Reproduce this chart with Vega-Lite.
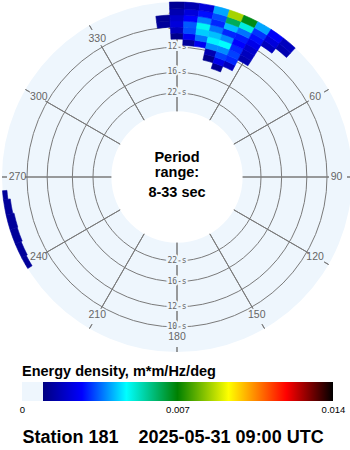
{
  "$schema": "https://vega.github.io/schema/vega-lite/v6.json",
  "padding": 0,
  "autosize": {"type": "pad"},
  "background": "white",
  "spacing": 30,
  "bounds": "flush",
  "config": {"view": {"stroke": null}, "font": "Liberation Sans"},
  "datasets": {
    "ring": [{"a0": 0, "a1": 360, "fIn": 0.0303, "fOut": 0.12066}],
    "circles": [
      {"a0": 0, "a1": 360, "f": 0.1},
      {"a0": 0, "a1": 360, "f": 0.083333},
      {"a0": 0, "a1": 360, "f": 0.0625},
      {"a0": 0, "a1": 360, "f": 0.045455}
    ],
    "spokes": [
      {"a": 0, "lab": "360", "s0": 0.0303, "s1": 0.10165, "k0": 0.11653, "k1": 0.12066, "fl": 0.10785},
      {"a": 30, "lab": "30", "s0": 0.0303, "s1": 0.10165, "k0": 0.11653, "k1": 0.12066, "fl": 0.10785},
      {"a": 60, "lab": "60", "s0": 0.0303, "s1": 0.10165, "k0": 0.11653, "k1": 0.12066, "fl": 0.10785},
      {"a": 90, "lab": "90", "s0": 0.0303, "s1": 0.10165, "k0": 0.11653, "k1": 0.12066, "fl": 0.10785},
      {"a": 120, "lab": "120", "s0": 0.0303, "s1": 0.10165, "k0": 0.11653, "k1": 0.12066, "fl": 0.10785},
      {"a": 150, "lab": "150", "s0": 0.0303, "s1": 0.10165, "k0": 0.11653, "k1": 0.12066, "fl": 0.10785},
      {"a": 180, "lab": "180", "s0": 0.0303, "s1": 0.10165, "k0": 0.11653, "k1": 0.12066, "fl": 0.10785},
      {"a": 210, "lab": "210", "s0": 0.0303, "s1": 0.10165, "k0": 0.11653, "k1": 0.12066, "fl": 0.10785},
      {"a": 240, "lab": "240", "s0": 0.0303, "s1": 0.10165, "k0": 0.11653, "k1": 0.12066, "fl": 0.10785},
      {"a": 270, "lab": "270", "s0": 0.0303, "s1": 0.10165, "k0": 0.11653, "k1": 0.12066, "fl": 0.10785},
      {"a": 300, "lab": "300", "s0": 0.0303, "s1": 0.10165, "k0": 0.11653, "k1": 0.12066, "fl": 0.10785},
      {"a": 330, "lab": "330", "s0": 0.0303, "s1": 0.10165, "k0": 0.11653, "k1": 0.12066, "fl": 0.10785}
    ],
    "periods": [
      {"a": 0, "f": 0.1, "t": "10 s"}, {"a": 0, "f": 0.083333, "t": "12 s"},
      {"a": 0, "f": 0.0625, "t": "16 s"}, {"a": 0, "f": 0.045455, "t": "22 s"},
      {"a": 180, "f": 0.1, "t": "10 s"}, {"a": 180, "f": 0.083333, "t": "12 s"},
      {"a": 180, "f": 0.0625, "t": "16 s"}, {"a": 180, "f": 0.045455, "t": "22 s"}
    ],
    "cells": [
      {"d0": -7.5, "d1": -2.5, "f0": 0.100, "f1": 0.105, "e": 0.0013},
      {"d0": -7.5, "d1": -2.5, "f0": 0.105, "f1": 0.110, "e": 0.0012},
      {"d0": -2.5, "d1": 2.5, "f0": 0.090, "f1": 0.095, "e": 0.0011},
      {"d0": -2.5, "d1": 2.5, "f0": 0.095, "f1": 0.100, "e": 0.0018},
      {"d0": -2.5, "d1": 2.5, "f0": 0.100, "f1": 0.105, "e": 0.0022},
      {"d0": -2.5, "d1": 2.5, "f0": 0.105, "f1": 0.110, "e": 0.0020},
      {"d0": -2.5, "d1": 2.5, "f0": 0.110, "f1": 0.115, "e": 0.0016},
      {"d0": -2.5, "d1": 2.5, "f0": 0.115, "f1": 0.1207, "e": 0.0012},
      {"d0": 2.5, "d1": 7.5, "f0": 0.085, "f1": 0.090, "e": 0.0013},
      {"d0": 2.5, "d1": 7.5, "f0": 0.090, "f1": 0.095, "e": 0.0025},
      {"d0": 2.5, "d1": 7.5, "f0": 0.095, "f1": 0.100, "e": 0.0033},
      {"d0": 2.5, "d1": 7.5, "f0": 0.100, "f1": 0.105, "e": 0.0034},
      {"d0": 2.5, "d1": 7.5, "f0": 0.105, "f1": 0.110, "e": 0.0027},
      {"d0": 2.5, "d1": 7.5, "f0": 0.110, "f1": 0.115, "e": 0.0022},
      {"d0": 2.5, "d1": 7.5, "f0": 0.115, "f1": 0.1207, "e": 0.0016},
      {"d0": 7.5, "d1": 12.5, "f0": 0.085, "f1": 0.090, "e": 0.0025},
      {"d0": 7.5, "d1": 12.5, "f0": 0.090, "f1": 0.095, "e": 0.0036},
      {"d0": 7.5, "d1": 12.5, "f0": 0.095, "f1": 0.100, "e": 0.0043},
      {"d0": 7.5, "d1": 12.5, "f0": 0.100, "f1": 0.105, "e": 0.0048},
      {"d0": 7.5, "d1": 12.5, "f0": 0.105, "f1": 0.110, "e": 0.0037},
      {"d0": 7.5, "d1": 12.5, "f0": 0.110, "f1": 0.115, "e": 0.0028},
      {"d0": 7.5, "d1": 12.5, "f0": 0.115, "f1": 0.1207, "e": 0.0022},
      {"d0": 12.5, "d1": 17.5, "f0": 0.075, "f1": 0.080, "e": 0.0011},
      {"d0": 12.5, "d1": 17.5, "f0": 0.080, "f1": 0.085, "e": 0.0016},
      {"d0": 12.5, "d1": 17.5, "f0": 0.085, "f1": 0.090, "e": 0.0038},
      {"d0": 12.5, "d1": 17.5, "f0": 0.090, "f1": 0.095, "e": 0.0046},
      {"d0": 12.5, "d1": 17.5, "f0": 0.095, "f1": 0.100, "e": 0.0042},
      {"d0": 12.5, "d1": 17.5, "f0": 0.100, "f1": 0.105, "e": 0.0036},
      {"d0": 12.5, "d1": 17.5, "f0": 0.105, "f1": 0.110, "e": 0.0030},
      {"d0": 12.5, "d1": 17.5, "f0": 0.110, "f1": 0.115, "e": 0.0033},
      {"d0": 12.5, "d1": 17.5, "f0": 0.115, "f1": 0.1207, "e": 0.0040},
      {"d0": 17.5, "d1": 22.5, "f0": 0.070, "f1": 0.075, "e": 0.0012},
      {"d0": 17.5, "d1": 22.5, "f0": 0.075, "f1": 0.080, "e": 0.0024},
      {"d0": 17.5, "d1": 22.5, "f0": 0.080, "f1": 0.085, "e": 0.0032},
      {"d0": 17.5, "d1": 22.5, "f0": 0.085, "f1": 0.090, "e": 0.0038},
      {"d0": 17.5, "d1": 22.5, "f0": 0.090, "f1": 0.095, "e": 0.0047},
      {"d0": 17.5, "d1": 22.5, "f0": 0.095, "f1": 0.100, "e": 0.0038},
      {"d0": 17.5, "d1": 22.5, "f0": 0.100, "f1": 0.105, "e": 0.0030},
      {"d0": 17.5, "d1": 22.5, "f0": 0.105, "f1": 0.110, "e": 0.0042},
      {"d0": 17.5, "d1": 22.5, "f0": 0.110, "f1": 0.115, "e": 0.0062},
      {"d0": 17.5, "d1": 22.5, "f0": 0.115, "f1": 0.1207, "e": 0.0085},
      {"d0": 22.5, "d1": 27.5, "f0": 0.075, "f1": 0.080, "e": 0.0018},
      {"d0": 22.5, "d1": 27.5, "f0": 0.080, "f1": 0.085, "e": 0.0030},
      {"d0": 22.5, "d1": 27.5, "f0": 0.085, "f1": 0.090, "e": 0.0032},
      {"d0": 22.5, "d1": 27.5, "f0": 0.090, "f1": 0.095, "e": 0.0030},
      {"d0": 22.5, "d1": 27.5, "f0": 0.095, "f1": 0.100, "e": 0.0027},
      {"d0": 22.5, "d1": 27.5, "f0": 0.100, "f1": 0.105, "e": 0.0029},
      {"d0": 22.5, "d1": 27.5, "f0": 0.105, "f1": 0.110, "e": 0.0036},
      {"d0": 22.5, "d1": 27.5, "f0": 0.110, "f1": 0.115, "e": 0.0050},
      {"d0": 22.5, "d1": 27.5, "f0": 0.115, "f1": 0.1207, "e": 0.0068},
      {"d0": 27.5, "d1": 32.5, "f0": 0.085, "f1": 0.090, "e": 0.0016},
      {"d0": 27.5, "d1": 32.5, "f0": 0.090, "f1": 0.095, "e": 0.0018},
      {"d0": 27.5, "d1": 32.5, "f0": 0.095, "f1": 0.100, "e": 0.0020},
      {"d0": 27.5, "d1": 32.5, "f0": 0.100, "f1": 0.105, "e": 0.0024},
      {"d0": 27.5, "d1": 32.5, "f0": 0.105, "f1": 0.110, "e": 0.0028},
      {"d0": 27.5, "d1": 32.5, "f0": 0.110, "f1": 0.115, "e": 0.0031},
      {"d0": 27.5, "d1": 32.5, "f0": 0.115, "f1": 0.1207, "e": 0.0040},
      {"d0": 32.5, "d1": 37.5, "f0": 0.105, "f1": 0.110, "e": 0.0018},
      {"d0": 32.5, "d1": 37.5, "f0": 0.110, "f1": 0.115, "e": 0.0022},
      {"d0": 32.5, "d1": 37.5, "f0": 0.115, "f1": 0.1207, "e": 0.0026},
      {"d0": 37.5, "d1": 42.5, "f0": 0.110, "f1": 0.115, "e": 0.0016},
      {"d0": 37.5, "d1": 42.5, "f0": 0.115, "f1": 0.1207, "e": 0.0018},
      {"d0": 238.5, "d1": 242.5, "f0": 0.1165, "f1": 0.1207, "e": 0.0013},
      {"d0": 242.5, "d1": 247.5, "f0": 0.1155, "f1": 0.1207, "e": 0.0013},
      {"d0": 247.5, "d1": 252.5, "f0": 0.1145, "f1": 0.1207, "e": 0.0013},
      {"d0": 252.5, "d1": 257.5, "f0": 0.1140, "f1": 0.1207, "e": 0.0013},
      {"d0": 257.5, "d1": 262.5, "f0": 0.1150, "f1": 0.1207, "e": 0.0013},
      {"d0": 262.5, "d1": 265.5, "f0": 0.1170, "f1": 0.1207, "e": 0.0013}
    ],
    "centerTop": [{"t": "Period\nrange:"}],
    "centerBottom": [{"t": "8-33 sec"}],
    "colorbar": [{"v0": 0, "v1": 0.014}]
  },
  "vconcat": [
    {
      "width": 350,
      "height": 350,
      "layer": [
        {
          "data": {"name": "ring"},
          "mark": {"type": "arc", "fill": "#eef6fd"},
          "encoding": {
            "theta": {"field": "a0", "type": "quantitative", "stack": null, "scale": {"domain": [0, 360], "range": [0, 6.283185307179586], "nice": false, "zero": false}},
            "theta2": {"field": "a1"},
            "radius": {"field": "fOut", "type": "quantitative", "scale": {"type": "linear", "zero": false, "nice": false, "domain": [-0.02397, 0.12066], "range": [0, 175]}},
            "radius2": {"field": "fIn"}
          }
        },
        {
          "data": {"name": "circles"},
          "mark": {"type": "arc", "fillOpacity": 0, "stroke": "#7a7a7a", "strokeWidth": 1},
          "encoding": {
            "theta": {"field": "a0", "type": "quantitative", "stack": null},
            "theta2": {"field": "a1"},
            "radius": {"field": "f", "type": "quantitative"},
            "radius2": {"datum": -0.02397}
          }
        },
        {
          "data": {"name": "spokes"},
          "mark": {"type": "arc", "fillOpacity": 0, "stroke": "#7a7a7a", "strokeWidth": 1},
          "encoding": {
            "theta": {"field": "a", "type": "quantitative", "stack": null},
            "theta2": {"field": "a"},
            "radius": {"field": "s1", "type": "quantitative"},
            "radius2": {"field": "s0"}
          }
        },
        {
          "data": {"name": "spokes"},
          "mark": {"type": "arc", "fillOpacity": 0, "stroke": "#7a7a7a", "strokeWidth": 1},
          "encoding": {
            "theta": {"field": "a", "type": "quantitative", "stack": null},
            "theta2": {"field": "a"},
            "radius": {"field": "k1", "type": "quantitative"},
            "radius2": {"field": "k0"}
          }
        },
        {
          "data": {"name": "periods"},
          "mark": {"type": "text", "font": "DejaVu Sans Mono", "fontSize": 8, "align": "center", "baseline": "middle", "fill": "#eef6fd", "stroke": "#eef6fd", "strokeWidth": 4},
          "encoding": {
            "theta": {"field": "a", "type": "quantitative"},
            "radius": {"field": "f", "type": "quantitative"},
            "text": {"field": "t"}
          }
        },
        {
          "data": {"name": "periods"},
          "mark": {"type": "text", "font": "DejaVu Sans Mono", "fontSize": 8, "align": "center", "baseline": "middle", "fill": "#666666"},
          "encoding": {
            "theta": {"field": "a", "type": "quantitative"},
            "radius": {"field": "f", "type": "quantitative"},
            "text": {"field": "t"}
          }
        },
        {
          "data": {"name": "spokes"},
          "mark": {"type": "text", "font": "Liberation Sans", "fontSize": 10.5, "align": "center", "baseline": "middle", "fill": "#666666"},
          "encoding": {
            "theta": {"field": "a", "type": "quantitative"},
            "radius": {"field": "fl", "type": "quantitative"},
            "text": {"field": "lab"}
          }
        },
        {
          "data": {"name": "cells"},
          "mark": {"type": "arc", "strokeWidth": 0.6},
          "encoding": {
            "theta": {"field": "d0", "type": "quantitative", "stack": null},
            "theta2": {"field": "d1"},
            "radius": {"field": "f1", "type": "quantitative"},
            "radius2": {"field": "f0"},
            "color": {"field": "e", "type": "quantitative", "legend": null,
              "scale": {"domain": [0.00094, 0.0027, 0.0047, 0.007, 0.0093, 0.0119, 0.014], "range": ["#000080", "#0000ff", "#00ffff", "#008000", "#ffff00", "#ff0000", "#000000"], "interpolate": "rgb", "clamp": true}},
            "stroke": {"field": "e", "type": "quantitative", "legend": null,
              "scale": {"domain": [0.00094, 0.0027, 0.0047, 0.007, 0.0093, 0.0119, 0.014], "range": ["#000080", "#0000ff", "#00ffff", "#008000", "#ffff00", "#ff0000", "#000000"], "interpolate": "rgb", "clamp": true}}
          }
        },
        {
          "data": {"name": "centerTop"},
          "mark": {"type": "text", "font": "Liberation Sans", "fontSize": 14.5, "fontWeight": "bold", "align": "center", "baseline": "alphabetic", "lineBreak": "\n", "lineHeight": 15, "dy": -15, "fill": "#000000"},
          "encoding": {"text": {"field": "t"}}
        },
        {
          "data": {"name": "centerBottom"},
          "mark": {"type": "text", "font": "Liberation Sans", "fontSize": 14.5, "fontWeight": "bold", "align": "center", "baseline": "alphabetic", "dy": 20, "fill": "#000000"},
          "encoding": {"text": {"field": "t"}}
        }
      ]
    },
    {
      "width": 350,
      "height": 19,
      "data": {"name": "colorbar"},
      "title": {"text": "Energy density, m*m/Hz/deg", "anchor": "start", "dx": 20, "offset": 3, "font": "Liberation Sans", "fontSize": 14.5, "fontWeight": "bold", "color": "#000000"},
      "mark": {"type": "rect", "stroke": null, "fill": {"gradient": "linear", "x1": 0, "y1": 0, "x2": 1, "y2": 0, "stops": [
        {"offset": 0, "color": "#eef6fd"},
        {"offset": 0.0670, "color": "#eef6fd"},
        {"offset": 0.0672, "color": "#000080"},
        {"offset": 0.1929, "color": "#0000ff"},
        {"offset": 0.3357, "color": "#00ffff"},
        {"offset": 0.5, "color": "#008000"},
        {"offset": 0.6643, "color": "#ffff00"},
        {"offset": 0.85, "color": "#ff0000"},
        {"offset": 1, "color": "#000000"}
      ]}},
      "encoding": {
        "x": {"field": "v0", "type": "quantitative",
          "scale": {"domain": [0, 0.014], "range": [20, 331], "nice": false, "zero": false},
          "axis": {"values": [0, 0.007, 0.014], "labelExpr": "datum.value == 0 ? '0' : format(datum.value, '.3f')", "labelAlign": "center", "labelFlush": false, "ticks": false, "tickSize": 0, "domain": false, "grid": false, "labelPadding": 3, "labelFontSize": 9.5, "labelFont": "Liberation Sans", "labelColor": "#000000",
            "title": "Station 181\u00a0\u00a0\u00a0\u00a02025-05-31 09:00 UTC", "titleFont": "Liberation Sans", "titleFontSize": 18, "titleFontWeight": "bold", "titleColor": "#000000", "titleAnchor": "start", "titlePadding": 15}},
        "x2": {"field": "v1"}
      }
    }
  ]
}
